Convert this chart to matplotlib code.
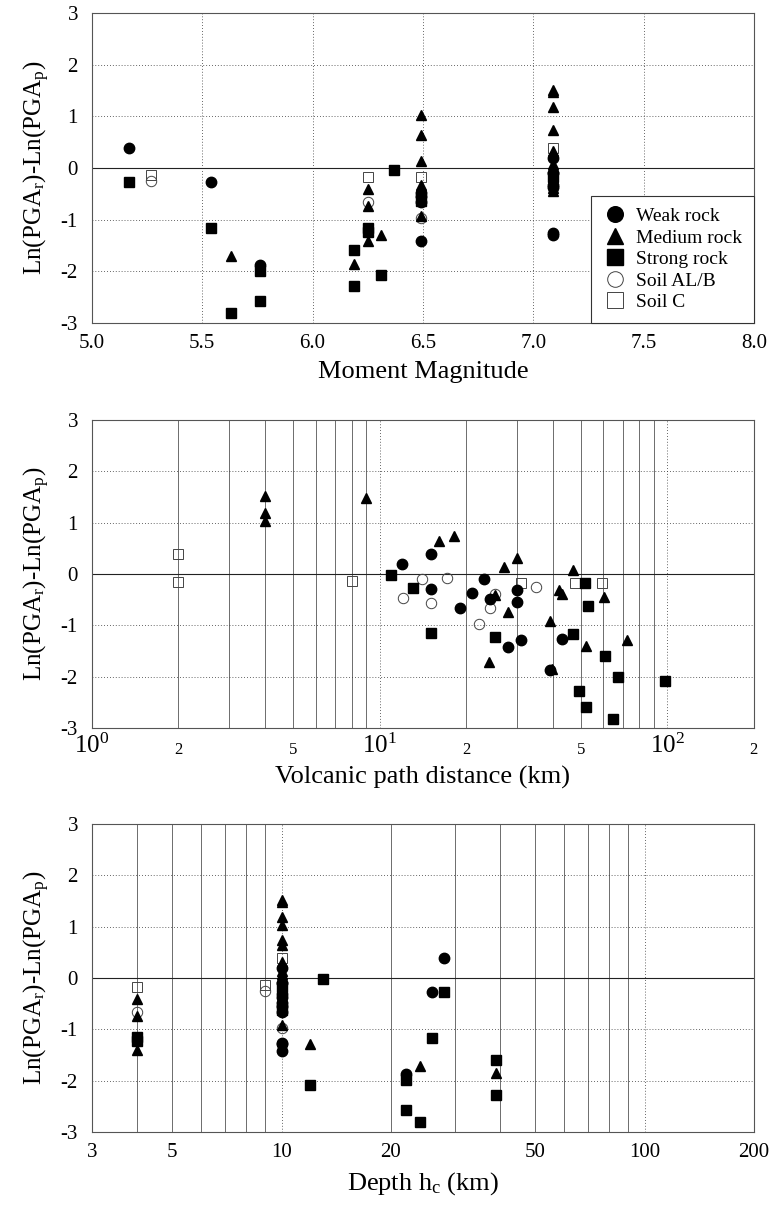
import numpy as np
import matplotlib.pyplot as plt
from matplotlib.ticker import LogLocator, FuncFormatter, LogFormatterMathtext

plt.rcParams['font.family'] = 'Liberation Serif'
plt.rcParams['mathtext.fontset'] = 'custom'
plt.rcParams['mathtext.rm'] = 'Liberation Serif'
plt.rcParams['mathtext.it'] = 'Liberation Serif:italic'
plt.rcParams['axes.unicode_minus'] = False

# Earthquakes: moment magnitude and depth (km)
ev_mag = [5.17, 5.27, 5.54, 5.63, 5.76, 6.19, 6.25, 6.31, 6.37, 6.49, 7.09]
ev_depth = [28, 9, 26, 24, 22, 39, 4, 12, 13, 10, 10]

# residuals per site class (event index, residual) -> top and bottom panels
weak_ev = [0, 2, 4, 9, 9, 9, 9, 10, 10, 10, 10, 10, 10]
weak_res = [0.39, -0.28, -1.88, -1.42, -0.49, -0.54, -0.66, 0.20, -0.09, -0.32, -0.37, -1.26, -1.29]
med_ev = [3, 5, 6, 6, 6, 7, 9, 9, 9, 9, 9, 10, 10, 10, 10, 10, 10, 10, 10]
med_res = [-1.71, -1.86, -0.41, -0.74, -1.41, -1.29, 1.03, 0.64, 0.14, -0.32, -0.92,
           1.51, 1.48, 1.19, 0.74, 0.32, 0.07, -0.39, -0.44]
strong_ev = [0, 2, 3, 4, 4, 5, 5, 6, 6, 7, 8, 9, 10]
strong_res = [-0.28, -1.17, -2.81, -1.99, -2.58, -1.59, -2.28, -1.16, -1.23, -2.08, -0.03, -0.63, -0.18]
soilb_ev = [1, 6, 9, 9, 9, 10, 10, 10]
soilb_res = [-0.26, -0.66, -0.97, -0.47, -0.57, -0.09, -0.08, -0.39]
soilc_ev = [1, 6, 9, 10, 10, 10]
soilc_res = [-0.13, -0.18, -0.18, 0.39, -0.15, -0.18]

# middle panel: volcanic path distance (km) and residual
weak_dist = [12.0, 15.1, 15.1, 19.0, 21.0, 23.1, 24.2, 30.1, 30.1, 28.0, 31.0, 43.1, 39.0]
weak_dres = [0.20, 0.39, -0.29, -0.66, -0.37, -0.09, -0.49, -0.32, -0.54, -1.42, -1.29, -1.26, -1.88]
med_dist = [4.0, 4.0, 4.0, 9.0, 16.1, 18.1, 27.0, 30.1, 46.9, 25.2, 28.0, 41.9, 43.1, 60.2,
            39.0, 52.0, 72.3, 24.1, 39.9]
med_dres = [1.51, 1.19, 1.03, 1.48, 0.64, 0.74, 0.14, 0.32, 0.07, -0.41, -0.74, -0.32, -0.39, -0.44,
            -0.92, -1.41, -1.29, -1.72, -1.86]
strong_dist = [11.0, 13.1, 15.1, 25.1, 46.9, 51.9, 53.2, 61.0, 67.2, 98.0, 49.2, 52.0, 65.0]
strong_dres = [-0.03, -0.28, -1.16, -1.23, -1.17, -0.18, -0.63, -1.59, -2.01, -2.08, -2.28, -2.59, -2.83]
soilb_dist = [14.1, 17.1, 12.1, 15.1, 25.2, 24.2, 22.1, 34.9]
soilb_dres = [-0.09, -0.08, -0.47, -0.57, -0.39, -0.66, -0.97, -0.26]
soilc_dist = [2.0, 2.0, 8.0, 31.0, 47.9, 59.1]
soilc_dres = [0.39, -0.15, -0.13, -0.18, -0.18, -0.18]

labels = ['Weak rock', 'Medium rock', 'Strong rock', 'Soil AL/B', 'Soil C']
markers = ['o', '^', 's', 'o', 's']
filled = [True, True, True, False, False]
ev_idx = [weak_ev, med_ev, strong_ev, soilb_ev, soilc_ev]
ev_res = [weak_res, med_res, strong_res, soilb_res, soilc_res]
dists = [weak_dist, med_dist, strong_dist, soilb_dist, soilc_dist]
dres = [weak_dres, med_dres, strong_dres, soilb_dres, soilc_dres]

ylab = r'Ln(PGA$_\mathregular{r}$)-Ln(PGA$_\mathregular{p}$)'
dotted = (0, (1, 2.5))

fig = plt.figure(figsize=(7.72, 12.06), dpi=100)
ax1 = fig.add_axes([0.119, 0.7322, 0.8575, 0.2570])
ax2 = fig.add_axes([0.119, 0.3964, 0.8575, 0.2554])
ax3 = fig.add_axes([0.119, 0.0614, 0.8575, 0.2554])


def draw(ax, xs, ys):
    handles = []
    for k in range(5):
        if filled[k]:
            h, = ax.plot(xs[k], ys[k], ls='none', marker=markers[k], ms=7.5,
                         mfc='k', mec='k', zorder=4)
        else:
            h, = ax.plot(xs[k], ys[k], ls='none', marker=markers[k], ms=7.5,
                         mfc='none', mec='#444', mew=0.7, zorder=3)
        handles.append(h)
    return handles


def base_style(ax):
    ax.set_ylim(-3, 3)
    ax.set_yticks(range(-3, 4))
    ax.grid(axis='y', ls=dotted, color='#333', lw=0.6)
    ax.axhline(0, color='#222', lw=0.8, zorder=2)
    ax.tick_params(which='both', length=0, labelsize=15)
    ax.tick_params(axis='y', pad=10)
    ax.set_ylabel(ylab, fontsize=18, labelpad=6)
    for s in ax.spines.values():
        s.set_color('#555')
        s.set_linewidth(0.8)


# --- top: magnitude
xs = [[ev_mag[i] for i in idx] for idx in ev_idx]
hs = draw(ax1, xs, ev_res)
base_style(ax1)
ax1.set_xlim(5.0, 8.0)
ax1.set_xticks(np.arange(5.0, 8.01, 0.5))
ax1.xaxis.set_major_formatter(FuncFormatter(lambda v, p: '%.1f' % v))
ax1.grid(axis='x', ls=dotted, color='#333', lw=0.6)
ax1.tick_params(axis='x', pad=8)
ax1.set_xlabel('Moment Magnitude', fontsize=19, labelpad=6)
leg = ax1.legend(hs, labels, loc='lower right', borderaxespad=0, fancybox=False,
                 edgecolor='#333', framealpha=1, fontsize=14, markerscale=1.5,
                 handlelength=1.2, handletextpad=0.5, labelspacing=0.2, borderpad=0.6)
leg.get_frame().set_linewidth(0.8)


def mant_fmt(keep):
    def f(v, p):
        e = np.floor(np.log10(v) + 1e-9)
        m = int(round(v / 10 ** e))
        return '%d' % m if m in keep else ''
    return f


# --- middle: distance
draw(ax2, dists, dres)
base_style(ax2)
ax2.set_xscale('log')
ax2.set_xlim(1, 200)
ax2.xaxis.set_major_locator(LogLocator(base=10, numticks=10))
ax2.xaxis.set_major_formatter(LogFormatterMathtext())
ax2.xaxis.set_minor_locator(LogLocator(base=10, subs=np.arange(2, 10), numticks=20))
ax2.xaxis.set_minor_formatter(FuncFormatter(mant_fmt((2, 5))))
ax2.grid(axis='x', which='major', ls=dotted, color='#333', lw=0.6)
ax2.grid(axis='x', which='minor', ls='-', color='#555', lw=0.6)
ax2.tick_params(axis='x', which='major', labelsize=18, pad=4)
ax2.tick_params(axis='x', which='minor', labelsize=12, pad=10)
ax2.set_xlabel('Volcanic path distance (km)', fontsize=19, labelpad=6)

# --- bottom: depth
xs = [[ev_depth[i] for i in idx] for idx in ev_idx]
draw(ax3, xs, ev_res)
base_style(ax3)
ax3.set_xscale('log')
ax3.set_xlim(3, 200)
ax3.xaxis.set_major_locator(LogLocator(base=10, numticks=10))
ax3.xaxis.set_major_formatter(FuncFormatter(lambda v, p: '%d' % v))
ax3.xaxis.set_minor_locator(LogLocator(base=10, subs=np.arange(2, 10), numticks=20))
ax3.xaxis.set_minor_formatter(FuncFormatter(lambda v, p: '%d' % round(v) if round(v) in (3, 5, 20, 50, 200) else ''))
ax3.grid(axis='x', which='major', ls=dotted, color='#333', lw=0.6)
ax3.grid(axis='x', which='minor', ls='-', color='#555', lw=0.6)
ax3.tick_params(axis='x', which='both', pad=8)
ax3.set_xlabel(r'Depth h$_\mathregular{c}$ (km)', fontsize=19, labelpad=6)

fig.savefig('out.png', dpi=100)
